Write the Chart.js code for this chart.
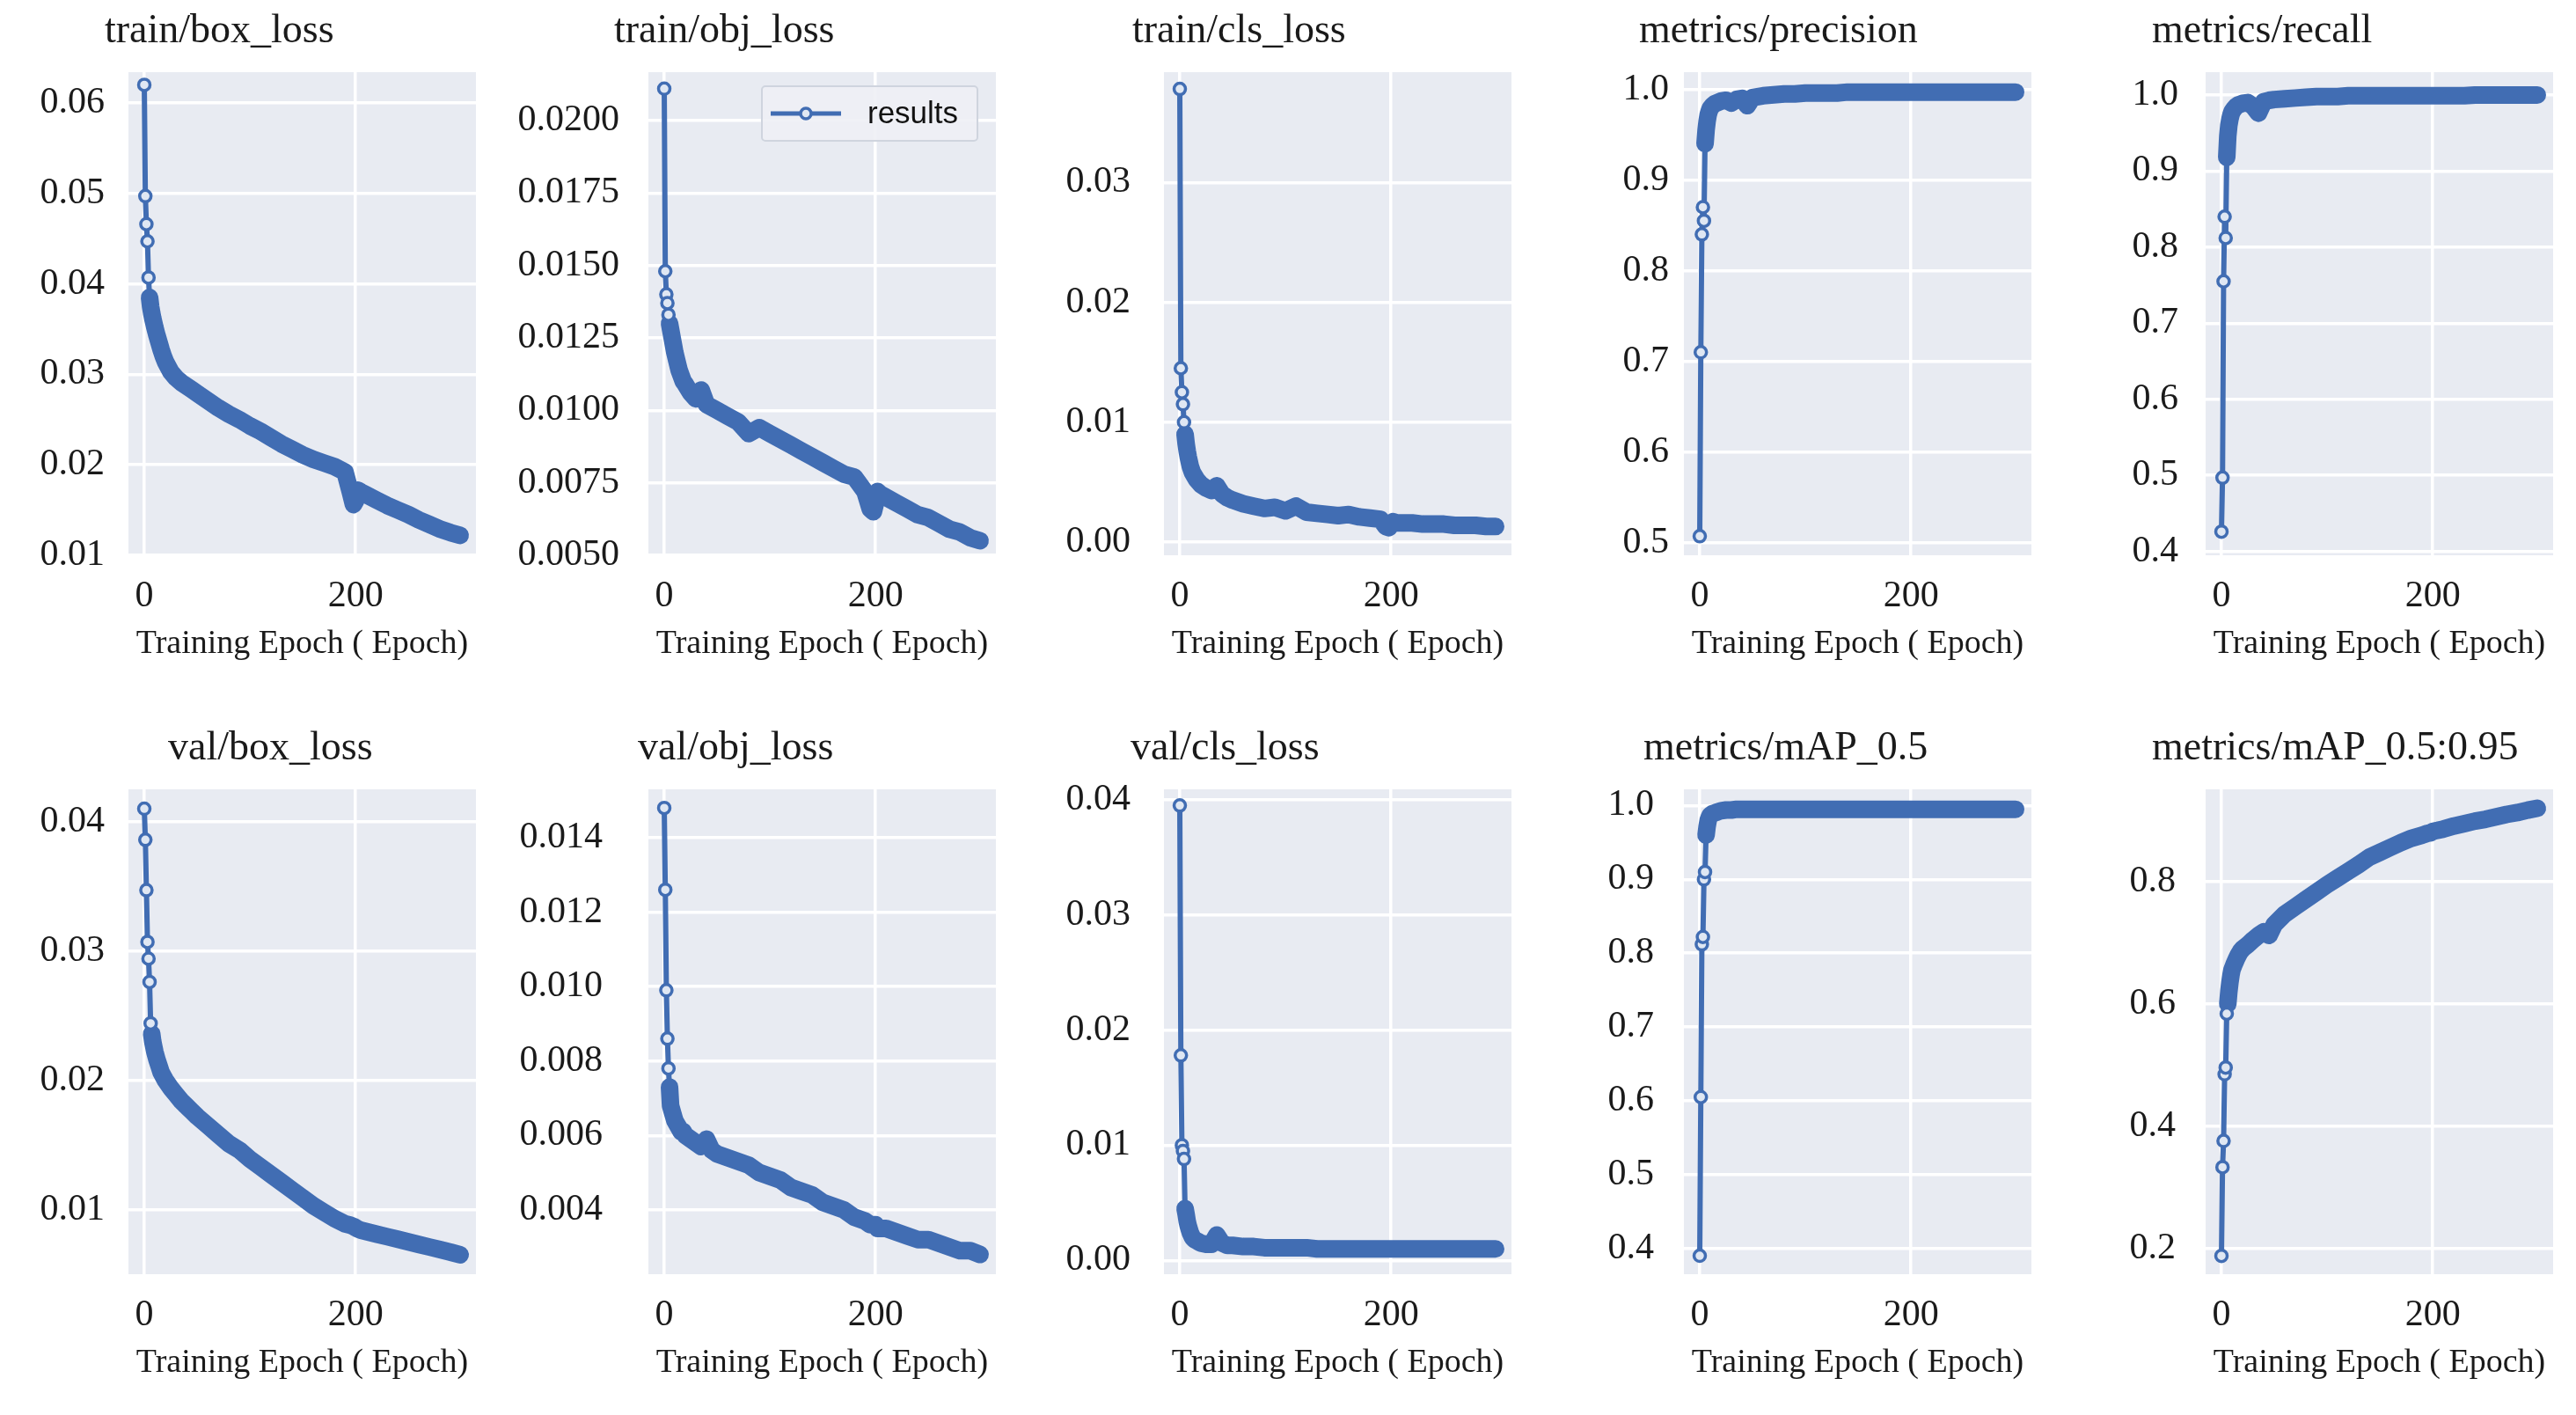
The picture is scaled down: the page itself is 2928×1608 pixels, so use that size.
<!DOCTYPE html>
<html>
<head>
<meta charset="utf-8">
<title>Training results</title>
<script src="https://cdn.jsdelivr.net/npm/chart.js@4.4.1/dist/chart.umd.min.js"></script>
<style>
  html, body { margin: 0; padding: 0; background: #fff; }
  body { width: 2928px; height: 1608px; position: relative; overflow: hidden; }
  canvas { position: absolute; }
</style>
</head>
<body>
<script>
// ---- data ----
const epochs = [0, 1, 2, 3, 4, 5, 6, 7, 8, 9, 10,
  12, 14, 16, 18, 20,
  25, 30, 35, 40, 45, 50,
  60, 70, 80, 90, 100, 110, 120, 130, 140, 150, 160, 170, 180, 190,
  195, 198, 200, 202, 205, 210,
  220, 230, 240, 250, 260, 270, 280, 290, 299];

const trainBoxLoss = [.0620, .0497, .0466, .0447, .0407, .0385, .0375, .0368, .0362, .0357, .0352,
  .0343, .0335, .0327, .0320, .0314,
  .0303, .0296, .0291, .0287, .0283, .0279,
  .0271, .0263, .0256, .0250, .0243, .0237, .0230, .0223, .0217, .0211, .0206, .0202, .0198, .0192,
  .0170, .0156, .0160, .0172, .0170, .0167,
  .0161, .0155, .0150, .0145, .0139, .0134, .0129, .0125, .0122];

const trainObjLoss = [.0211, .0148, .0140, .0137, .0133, .0130, .0128, .0126, .0124, .0122, .0120,
  .0117, .0114, .0112, .0110, .0109,
  .0106, .0104, .0107, .0102, .0101, .0100,
  .0098, .0096, .0092, .0094, .0092, .0090, .0088, .0086, .0084, .0082, .0080, .0078, .0077, .0072,
  .0066, .0065, .0068, .0072, .0071, .0070,
  .0068, .0066, .0064, .0063, .0061, .0059, .0058, .0056, .0055];

const trainClsLoss = [.0378, .0145, .0125, .0115, .0100, .0090, .0082, .0076, .0071, .0067, .0063,
  .0058, .0055, .0052, .0050, .0048,
  .0045, .0043, .0047, .0040, .0037, .0035,
  .0032, .0030, .0028, .0029, .0026, .0030, .0025, .0024, .0023, .0022, .0023, .0021, .0020, .0019,
  .0013, .0012, .0015, .0017, .0016, .0016,
  .0016, .0015, .0015, .0015, .0014, .0014, .0014, .0013, .0013];

const precision = [.507, .710, .840, .870, .855, .940, .955, .965, .972, .976, .979,
  .982, .984, .985, .986, .987,
  .988, .985, .989, .990, .982, .991,
  .993, .994, .995, .995, .996, .996, .996, .996, .997, .997, .997, .997, .997, .997,
  .997, .997, .997, .997, .997, .997,
  .997, .997, .997, .997, .997, .997, .997, .997, .997];

const recall = [.426, .497, .755, .840, .812, .918, .946, .960, .968, .974, .978,
  .982, .985, .987, .988, .989,
  .990, .985, .976, .991, .993, .994,
  .995, .996, .997, .998, .998, .998, .999, .999, .999, .999, .999, .999, .999, .999,
  .999, .999, .999, .999, .999, .999,
  .999, .999, 1.000, 1.000, 1.000, 1.000, 1.000, 1.000, 1.000];

const valBoxLoss = [.0410, .0386, .0347, .0307, .0294, .0276, .0244, .0236, .0230, .0226, .0222,
  .0216, .0211, .0206, .0203, .0200,
  .0194, .0189, .0184, .0180, .0176, .0172,
  .0165, .0158, .0151, .0146, .0139, .0133, .0127, .0121, .0115, .0109, .0103, .0098, .0093, .0089,
  .0088, .0087, .0086, .0085, .0084, .0083,
  .0081, .0079, .0077, .0075, .0073, .0071, .0069, .0067, .0065];

const valObjLoss = [.0148, .0126, .0099, .0086, .0078, .0073, .0068, .0067, .0066, .0065, .0064,
  .0063, .0062, .0061, .0061, .0060,
  .0059, .0058, .0057, .0059, .0056, .0055,
  .0054, .0053, .0052, .0050, .0049, .0048, .0046, .0045, .0044, .0042, .0041, .0040, .0038, .0037,
  .0036, .0036, .0036, .0035, .0035, .0035,
  .0034, .0033, .0032, .0032, .0031, .0030, .0029, .0029, .0028];

const valClsLoss = [.0395, .0178, .0100, .0095, .0088, .0045, .0040, .0034, .0030, .0027, .0024,
  .0020, .0018, .0017, .0016, .0015,
  .0014, .0014, .0022, .0015, .0013, .0013,
  .0012, .0012, .0011, .0011, .0011, .0011, .0011, .0010, .0010, .0010, .0010, .0010, .0010, .0010,
  .0010, .0010, .0010, .0010, .0010, .0010,
  .0010, .0010, .0010, .0010, .0010, .0010, .0010, .0010, .0010];

const map50 = [.390, .605, .812, .822, .900, .910, .960, .972, .980, .984, .987,
  .989, .990, .991, .992, .993,
  .994, .994, .995, .995, .995, .995,
  .995, .995, .995, .995, .995, .995, .995, .995, .995, .995, .995, .995, .995, .995,
  .995, .995, .995, .995, .995, .995,
  .995, .995, .995, .995, .995, .995, .995, .995, .995];

const map5095 = [.188, .333, .376, .485, .496, .584, .600, .620, .635, .647, .656,
  .665, .673, .680, .686, .690,
  .697, .705, .712, .718, .712, .730,
  .747, .759, .771, .783, .795, .806, .817, .828, .840, .848, .856, .864, .871, .876,
  .879, .880, .882, .883, .884, .886,
  .891, .895, .899, .902, .906, .910, .913, .917, .920];

// tick values
const epochTicks = [0, 200];
const ticksTrainBox = [0.01, 0.02, 0.03, 0.04, 0.05, 0.06];
const ticksTrainObj = [0.005, 0.0075, 0.01, 0.0125, 0.015, 0.0175, 0.02];
const ticksTrainCls = [0, 0.01, 0.02, 0.03];
const ticksPrecision = [0.5, 0.6, 0.7, 0.8, 0.9, 1.0];
const ticksRecall = [0.4, 0.5, 0.6, 0.7, 0.8, 0.9, 1.0];
const ticksValBox = [0.01, 0.02, 0.03, 0.04];
const ticksValObj = [0.004, 0.006, 0.008, 0.010, 0.012, 0.014];
const ticksValCls = [0, 0.01, 0.02, 0.03, 0.04];
const ticksMap50 = [0.4, 0.5, 0.6, 0.7, 0.8, 0.9, 1.0];
const ticksMap5095 = [0.2, 0.4, 0.6, 0.8];

const panels = [
  { title: "train/box_loss", values: trainBoxLoss, ticks: ticksTrainBox, digits: 2, min: 0.01, max: 0.0634 },
  { title: "train/obj_loss", values: trainObjLoss, ticks: ticksTrainObj, digits: 4, min: 0.005, max: 0.02167, legend: true },
  { title: "train/cls_loss", values: trainClsLoss, ticks: ticksTrainCls, digits: 2, min: -0.0011, max: 0.0392 },
  { title: "metrics/precision", values: precision, ticks: ticksPrecision, digits: 1, min: 0.486, max: 1.019 },
  { title: "metrics/recall", values: recall, ticks: ticksRecall, digits: 1, min: 0.395, max: 1.03 },
  { title: "val/box_loss", values: valBoxLoss, ticks: ticksValBox, digits: 2, min: 0.005, max: 0.0425 },
  { title: "val/obj_loss", values: valObjLoss, ticks: ticksValObj, digits: 3, min: 0.00227, max: 0.0153 },
  { title: "val/cls_loss", values: valClsLoss, ticks: ticksValCls, digits: 2, min: -0.0012, max: 0.0409 },
  { title: "metrics/mAP_0.5", values: map50, ticks: ticksMap50, digits: 1, min: 0.365, max: 1.022 },
  { title: "metrics/mAP_0.5:0.95", values: map5095, ticks: ticksMap5095, digits: 1, min: 0.158, max: 0.951 },
];

// ---- layout (pixels) ----
const plotLefts = [146, 737, 1323, 1914, 2507];
const rowTops = [82, 897];
const rowHeights = [549, 551];
const PLOT_W = 395;
const Y_AXIS_W = 170;
const X_AXIS_H = 124;
const TOP_PAD = 80;
const RIGHT_PAD = 20;
const tickGaps = [27, 33, 38, 17, 31, 27, 52, 38, 34, 34];
const titleShift = [-27, -39, -36, -51, -61, 45, -12, -38, -46, -61];
const bandStarts = [5, 5, 5, 5, 5, 7, 5, 5, 6, 6];

const SERIF = '"Liberation Serif", "Times New Roman", serif';
const LINE_BLUE = "#416db3";
const MARKER_FILL = "#dfe7f3";
const PLOT_BG = "#e8ebf2";
const TEXT = "#1a1a1a";

Chart.defaults.font.family = SERIF;
Chart.defaults.color = TEXT;

const plotBackground = {
  id: "plotBackground",
  beforeDraw(chart) {
    const { ctx, chartArea: a } = chart;
    ctx.save();
    ctx.fillStyle = PLOT_BG;
    ctx.fillRect(a.left, a.top, a.right - a.left, a.bottom - a.top);
    ctx.restore();
  },
};

// panel title, placed like the original (not centred on the plot)
const panelTitle = {
  id: "panelTitle",
  afterDraw(chart, args, opts) {
    const { ctx, chartArea: a } = chart;
    ctx.save();
    ctx.font = "46px " + SERIF;
    ctx.fillStyle = TEXT;
    ctx.textAlign = "left";
    ctx.textBaseline = "middle";
    ctx.fillText(opts.text, a.left + opts.dx, a.top - 46);
    ctx.restore();
  },
};

// small "results" legend box in the top right of the plot
const resultsLegend = {
  id: "resultsLegend",
  afterDraw(chart, args, opts) {
    if (!opts.show) return;
    const { ctx, chartArea: a } = chart;
    const x = a.right - 266, y = a.top + 16, w = 245, h = 62;
    ctx.save();
    ctx.fillStyle = "rgba(238,240,245,0.9)";
    ctx.strokeStyle = "#cfd4de";
    ctx.lineWidth = 2;
    ctx.beginPath();
    ctx.roundRect(x, y, w, h, 4);
    ctx.fill();
    ctx.stroke();
    const cy = y + h / 2;
    ctx.strokeStyle = LINE_BLUE;
    ctx.lineWidth = 5;
    ctx.beginPath();
    ctx.moveTo(x + 10, cy);
    ctx.lineTo(x + 90, cy);
    ctx.stroke();
    ctx.beginPath();
    ctx.arc(x + 50, cy, 6, 0, Math.PI * 2);
    ctx.fillStyle = MARKER_FILL;
    ctx.fill();
    ctx.lineWidth = 3.5;
    ctx.stroke();
    ctx.fillStyle = "#111";
    ctx.font = '35px "Liberation Sans", Arial, sans-serif';
    ctx.textBaseline = "middle";
    ctx.fillText("results", x + 120, cy + 1);
    ctx.restore();
  },
};

panels.forEach((p, i) => {
  const row = Math.floor(i / 5);
  const col = i % 5;
  const plotH = rowHeights[row];
  const canvas = document.createElement("canvas");
  const cw = Y_AXIS_W + PLOT_W + RIGHT_PAD;
  const ch = TOP_PAD + plotH + X_AXIS_H;
  canvas.width = cw;
  canvas.height = ch;
  canvas.style.width = cw + "px";
  canvas.style.height = ch + "px";
  canvas.style.left = (plotLefts[col] - Y_AXIS_W) + "px";
  canvas.style.top = (rowTops[row] - TOP_PAD) + "px";
  document.body.appendChild(canvas);

  const bandStart = bandStarts[i];

  new Chart(canvas.getContext("2d"), {
    type: "line",
    data: {
      datasets: [{
        label: "results",
        data: epochs.map((e, k) => ({ x: e, y: p.values[k] })),
        borderColor: LINE_BLUE,
        borderWidth: 6,
        borderCapStyle: "round",
        borderJoinStyle: "round",
        tension: 0,
        segment: {
          borderWidth: (ctx) => (ctx.p0.parsed.x >= bandStart ? 20 : 6),
        },
        pointRadius: (ctx) => (epochs[ctx.dataIndex] < bandStart ? 6.5 : 0),
        pointBackgroundColor: MARKER_FILL,
        pointBorderColor: LINE_BLUE,
        pointBorderWidth: 3.5,
        pointHoverRadius: 0,
      }],
    },
    options: {
      responsive: false,
      animation: false,
      events: [],
      devicePixelRatio: 1,
      layout: { padding: { top: TOP_PAD, right: RIGHT_PAD, left: 0, bottom: 0 } },
      plugins: {
        legend: { display: false },
        tooltip: { enabled: false },
        panelTitle: { text: p.title, dx: titleShift[i] },
        resultsLegend: { show: !!p.legend },
      },
      scales: {
        x: {
          type: "linear",
          min: -15,
          max: 314,
          afterBuildTicks: (s) => { s.ticks = epochTicks.map((v) => ({ value: v })); },
          afterFit: (s) => { s.height = X_AXIS_H; },
          ticks: {
            padding: 22,
            maxRotation: 0,
            autoSkip: false,
            font: { family: SERIF, size: 42 },
            color: TEXT,
          },
          title: {
            display: true,
            text: "Training Epoch ( Epoch)",
            font: { family: SERIF, size: 38 },
            color: TEXT,
            padding: { top: 0, bottom: 0 },
          },
          grid: { color: "#ffffff", lineWidth: 3.5, drawTicks: false },
          border: { display: false },
        },
        y: {
          type: "linear",
          min: p.min,
          max: p.max,
          afterBuildTicks: (s) => { s.ticks = p.ticks.map((v) => ({ value: v })); },
          afterFit: (s) => { s.width = Y_AXIS_W; },
          ticks: {
            padding: tickGaps[i],
            autoSkip: false,
            font: { family: SERIF, size: 42 },
            color: TEXT,
            callback: (v) => Number(v).toFixed(p.digits),
          },
          grid: { color: "#ffffff", lineWidth: 3.5, drawTicks: false },
          border: { display: false },
        },
      },
    },
    plugins: [plotBackground, panelTitle, resultsLegend],
  });
});
</script>
</body>
</html>
